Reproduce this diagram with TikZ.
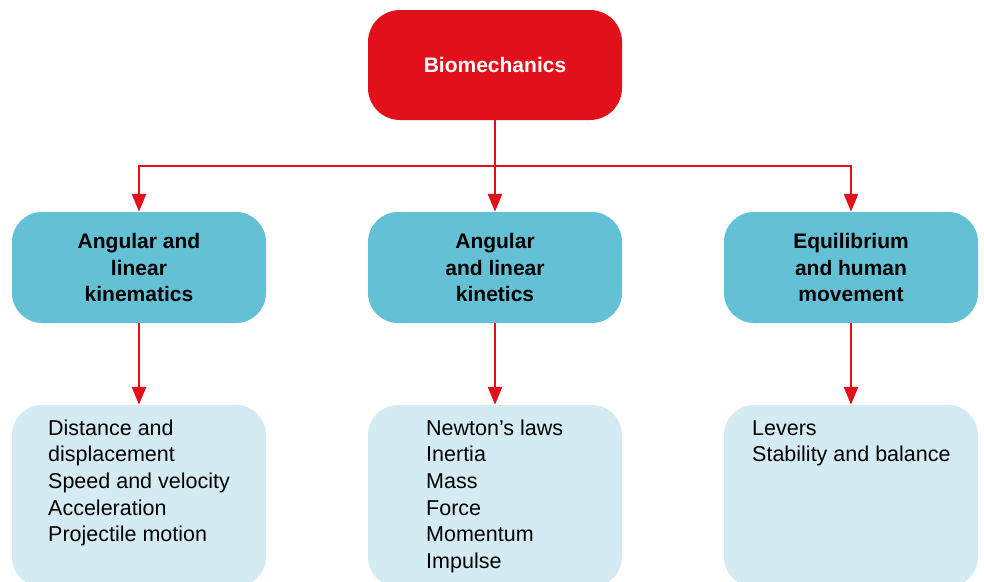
\documentclass[tikz,border=0pt]{standalone}
\usepackage{fontspec}
\setmainfont{Liberation Sans}
\usetikzlibrary{arrows.meta}
\definecolor{bioRed}{HTML}{E2101A}
\definecolor{topicBlue}{HTML}{64C0D4}
\definecolor{listBlue}{HTML}{D4EBF4}
\tikzset{
  rootbox/.style={fill=bioRed, rounded corners=32pt, minimum width=254pt, minimum height=110pt,
    text=white, font=\bfseries\fontsize{21}{26}\selectfont},
  topicbox/.style={fill=topicBlue, rounded corners=30pt, minimum width=254pt, minimum height=111pt,
    align=center, font=\bfseries\fontsize{21}{26.3}\selectfont, inner sep=0pt},
  listbox/.style={fill=listBlue, rounded corners=30pt, minimum width=254pt, minimum height=182pt},
  % multi-line text: the base anchor sits on the baseline of the last line
  listtext/.style={anchor=base west, align=left, inner sep=0pt,
    font=\fontsize{21.5}{26.7}\selectfont},
  link/.style={draw=bioRed, line width=2.6pt},
  arr/.style={link, -{Triangle[length=18pt,width=14pt]}}
}
\begin{document}
\begin{tikzpicture}[x=1pt,y=-1pt]
  \useasboundingbox (0,0) rectangle (984,581);
  \clip (0,0) rectangle (984,581);

  % root
  \node[rootbox] (root) at (495,65) {Biomechanics};

  % topics
  \node[topicbox] (kinem) at (139,267.5) {Angular and\\linear\\kinematics};
  \node[topicbox] (kinet) at (495,267.5) {Angular\\and linear\\kinetics};
  \node[topicbox] (equil) at (851,267.5) {Equilibrium\\and human\\movement};

  % content lists
  \node[listbox] (listA) at (139,496) {};
  \node[listbox] (listB) at (495,496) {};
  \node[listbox] (listC) at (851,496) {};

  \node[listtext] (txtA) at (48,541.8) {Distance and\\displacement\\Speed and velocity\\Acceleration\\Projectile motion};
  \node[listtext] (txtB) at (426,568.5) {Newton’s laws\\Inertia\\Mass\\Force\\Momentum\\Impulse};
  \node[listtext] (txtC) at (752,461.7) {Levers\\Stability and balance};

  % connectors
  \coordinate (hub) at (495,166);
  \draw[arr] (root.south) -- (kinet.north);
  \draw[arr] (hub) -| (kinem.north);
  \draw[arr] (hub) -| (equil.north);
  \draw[arr] (kinem.south) -- (listA.north);
  \draw[arr] (kinet.south) -- (listB.north);
  \draw[arr] (equil.south) -- (listC.north);
\end{tikzpicture}
\end{document}
